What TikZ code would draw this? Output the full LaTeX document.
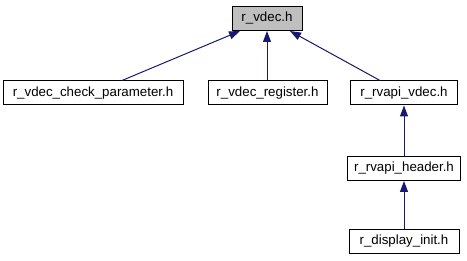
\documentclass[tikz,border=0pt]{standalone}
\usepackage{fontspec}
\setmainfont{Liberation Sans}
\usetikzlibrary{arrows.meta}

\definecolor{edgeblue}{HTML}{191970}
\definecolor{rootgrey}{HTML}{BFBFBF}

\begin{document}
\begin{tikzpicture}[x=1pt,y=-1pt,
  hfile/.style={draw=black, fill=white, line width=1, inner sep=0,
    minimum height=24, font=\fontsize{13.3}{15}\selectfont},
  incl/.style={draw=edgeblue, line width=1, -{Triangle[length=11,width=8]}}]
\useasboundingbox (0,0) rectangle (467,261);

\node[hfile, fill=rootgrey, minimum width=70] (vdec) at (267,18.5) {r\_vdec.h};
\node[hfile, minimum width=180] (check) at (93,93) {r\_vdec\_check\_parameter.h};
\node[hfile, minimum width=119] (register) at (267.5,93) {r\_vdec\_register.h};
\node[hfile, minimum width=107] (rvapi) at (404,93) {r\_rvapi\_vdec.h};
\node[hfile, minimum width=113] (header) at (404,168.5) {r\_rvapi\_header.h};
\node[hfile, minimum width=110] (display) at (404,241.5) {r\_display\_init.h};

\draw[incl] ([xshift=29]check.north) -- ([xshift=-27]vdec.south);
\draw[incl] (register.north -| vdec.south) -- (vdec.south);
\draw[incl] ([xshift=-24]rvapi.north) -- ([xshift=23]vdec.south);
\draw[incl] (header) -- (rvapi);
\draw[incl] (display) -- (header);
\end{tikzpicture}
\end{document}
